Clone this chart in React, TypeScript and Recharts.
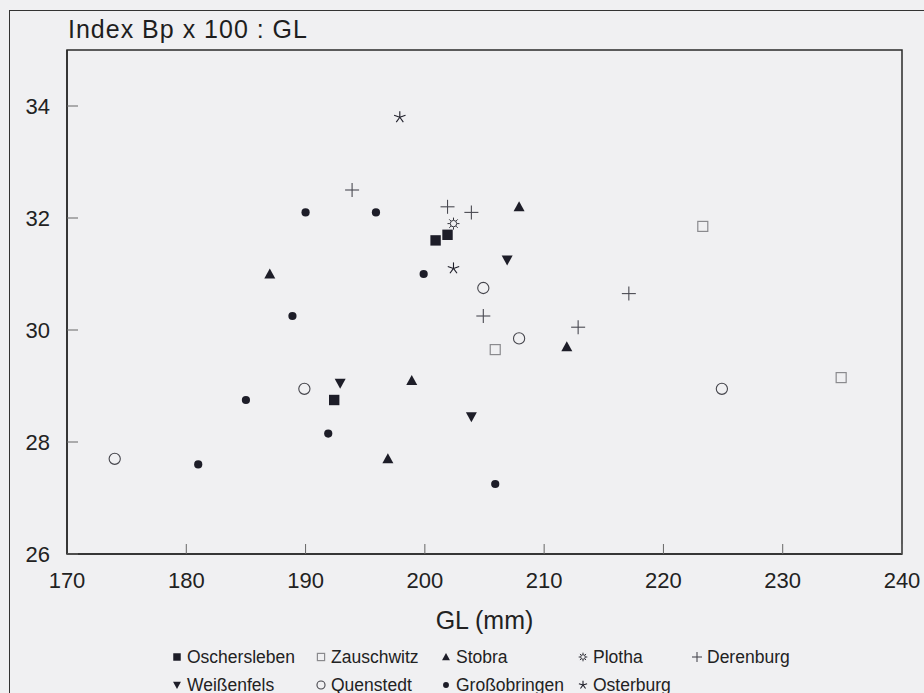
import React from "react";
import { ScatterChart, Scatter, XAxis, YAxis, ReferenceArea, Legend } from "recharts";

// Index Bp x 100 : GL
const oschersleben = [
  { x: 201.9, y: 31.7 },
  { x: 200.9, y: 31.6 },
  { x: 192.4, y: 28.75 },
];
const zauschwitz = [
  { x: 223.3, y: 31.85 },
  { x: 205.9, y: 29.65 },
  { x: 234.9, y: 29.15 },
];
const stobra = [
  { x: 187.0, y: 31.0 },
  { x: 207.9, y: 32.2 },
  { x: 211.9, y: 29.7 },
  { x: 198.9, y: 29.1 },
  { x: 196.9, y: 27.7 },
];
const plotha = [{ x: 202.4, y: 31.9 }];
const derenburg = [
  { x: 193.9, y: 32.5 },
  { x: 201.9, y: 32.2 },
  { x: 203.9, y: 32.1 },
  { x: 217.1, y: 30.65 },
  { x: 204.9, y: 30.25 },
  { x: 212.85, y: 30.05 },
];
const weissenfels = [
  { x: 206.9, y: 31.25 },
  { x: 192.9, y: 29.05 },
  { x: 203.9, y: 28.45 },
];
const quenstedt = [
  { x: 204.9, y: 30.75 },
  { x: 189.9, y: 28.95 },
  { x: 174.0, y: 27.7 },
  { x: 207.9, y: 29.85 },
  { x: 224.9, y: 28.95 },
];
const grossobringen = [
  { x: 190.0, y: 32.1 },
  { x: 195.9, y: 32.1 },
  { x: 199.9, y: 31.0 },
  { x: 188.9, y: 30.25 },
  { x: 185.0, y: 28.75 },
  { x: 191.9, y: 28.15 },
  { x: 181.0, y: 27.6 },
  { x: 205.9, y: 27.25 },
];
const osterburg = [
  { x: 197.9, y: 33.8 },
  { x: 202.4, y: 31.1 },
];

const xTicks = [170, 180, 190, 200, 210, 220, 230, 240];
const yTicks = [26, 28, 30, 32, 34];

const INK = "#1d1d28";
const FONT = '"Liberation Sans", Arial, sans-serif';

type P = { cx?: number; cy?: number; s?: number };

function FilledSquare({ cx = 0, cy = 0, s = 1 }: P) {
  const h = 5.2 * s;
  return <rect x={cx - h} y={cy - h} width={h * 2} height={h * 2} fill={INK} />;
}
function OpenSquare({ cx = 0, cy = 0, s = 1 }: P) {
  const h = 5 * s;
  return <rect x={cx - h} y={cy - h} width={h * 2} height={h * 2} fill="none" stroke="#8a8a8e" strokeWidth={1.2} />;
}
function TriUp({ cx = 0, cy = 0, s = 1 }: P) {
  const w = 5.5 * s;
  return <polygon points={`${cx},${cy - 5.5 * s} ${cx + w},${cy + 4.5 * s} ${cx - w},${cy + 4.5 * s}`} fill={INK} />;
}
function TriDown({ cx = 0, cy = 0, s = 1 }: P) {
  const w = 5.5 * s;
  return <polygon points={`${cx - w},${cy - 4.5 * s} ${cx + w},${cy - 4.5 * s} ${cx},${cy + 5.5 * s}`} fill={INK} />;
}
function FilledDot({ cx = 0, cy = 0, s = 1 }: P) {
  return <circle cx={cx} cy={cy} r={4.1 * s} fill={INK} />;
}
function OpenCircle({ cx = 0, cy = 0, s = 1 }: P) {
  return <circle cx={cx} cy={cy} r={5.6 * s} fill="none" stroke="#45454c" strokeWidth={1.1} />;
}
function Plus({ cx = 0, cy = 0, s = 1 }: P) {
  const h = 7 * s;
  return (
    <g stroke="#4a4a52" strokeWidth={1.1}>
      <line x1={cx - h} y1={cy} x2={cx + h} y2={cy} />
      <line x1={cx} y1={cy - h} x2={cx} y2={cy + h} />
    </g>
  );
}
function Asterisk({ cx = 0, cy = 0, s = 1 }: P) {
  const r = 6 * s;
  const arms = [-90, -18, 54, 126, 198];
  return (
    <g stroke={INK} strokeWidth={1.1}>
      {arms.map((a) => (
        <line
          key={a}
          x1={cx}
          y1={cy}
          x2={cx + r * Math.cos((a * Math.PI) / 180)}
          y2={cy + r * Math.sin((a * Math.PI) / 180)}
        />
      ))}
    </g>
  );
}
function Sun({ cx = 0, cy = 0, s = 1 }: P) {
  const rays = [0, 45, 90, 135, 180, 225, 270, 315];
  return (
    <g stroke="#33333b" strokeWidth={1}>
      <circle cx={cx} cy={cy} r={3.2 * s} fill="none" />
      {rays.map((a) => {
        const c = Math.cos((a * Math.PI) / 180);
        const sn = Math.sin((a * Math.PI) / 180);
        return <line key={a} x1={cx + 3.6 * s * c} y1={cy + 3.6 * s * sn} x2={cx + 6 * s * c} y2={cy + 6 * s * sn} />;
      })}
    </g>
  );
}

const series = [
  { name: "Oschersleben", data: oschersleben, Shape: FilledSquare },
  { name: "Zauschwitz", data: zauschwitz, Shape: OpenSquare },
  { name: "Stobra", data: stobra, Shape: TriUp },
  { name: "Plotha", data: plotha, Shape: Sun },
  { name: "Derenburg", data: derenburg, Shape: Plus },
  { name: "Weißenfels", data: weissenfels, Shape: TriDown },
  { name: "Quenstedt", data: quenstedt, Shape: OpenCircle },
  { name: "Großobringen", data: grossobringen, Shape: FilledDot },
  { name: "Osterburg", data: osterburg, Shape: Asterisk },
];

// legend: 5 columns, 2 rows
const legendCols = [177, 321, 446, 583, 697];

function LegendBox() {
  return (
    <div style={{ position: "relative", width: 924, height: 60, fontFamily: FONT, fontSize: 17.5, color: "#222" }}>
      {series.map((s, i) => {
        const col = i % 5;
        const row = Math.floor(i / 5);
        const x = legendCols[col];
        const y = row === 0 ? 12 : 40;
        const Shape = s.Shape;
        return (
          <div key={s.name} style={{ position: "absolute", left: x - 8, top: y - 11, height: 22, display: "flex", alignItems: "center", whiteSpace: "nowrap" }}>
            <svg width={16} height={16} style={{ marginRight: 2 }}>
              <Shape cx={8} cy={8} s={0.72} />
            </svg>
            <span>{s.name}</span>
          </div>
        );
      })}
    </div>
  );
}

export default function App() {
  return (
    <div style={{ position: "absolute", left: 0, top: 0, width: 924, height: 693, background: "#f0f0f2", overflow: "hidden" }}>
      <div style={{ position: "absolute", left: 9, top: 10, width: 1000, height: 1000, borderLeft: "1.5px solid #333", borderTop: "1.5px solid #333" }} />
      <div style={{ position: "absolute", left: 68, top: 17, fontFamily: FONT, fontSize: 25, letterSpacing: 1, color: "#1e1e1e", lineHeight: 1 }}>
        Index Bp x 100 : GL
      </div>
      <ScatterChart width={924} height={693} margin={{ top: 50, right: 22, left: 0, bottom: 99 }}>
        <ReferenceArea x1={170} x2={240} y1={26} y2={35} fill="none" stroke="#2a2a2a" strokeWidth={1.5} ifOverflow="visible" />
        <XAxis
          type="number"
          dataKey="x"
          domain={[170, 240]}
          ticks={xTicks}
          interval={0}
          height={40}
          axisLine={{ stroke: "#2a2a2a", strokeWidth: 1.5 }}
          tickLine={{ stroke: "#666" }}
          tickSize={-10}
          tickMargin={28}
          tick={{ fill: "#222", fontSize: 22, fontFamily: FONT }}
          label={{ value: "GL (mm)", position: "bottom", offset: 17, fill: "#222", fontSize: 25, fontFamily: FONT }}
        />
        <YAxis
          type="number"
          dataKey="y"
          domain={[26, 35]}
          ticks={yTicks}
          interval={0}
          width={67}
          axisLine={{ stroke: "#2a2a2a", strokeWidth: 1.5 }}
          tickLine={{ stroke: "#666" }}
          tickSize={-11}
          tickMargin={28}
          tick={{ fill: "#222", fontSize: 22, fontFamily: FONT }}
        />
        {series.map((s) => (
          <Scatter
            key={s.name}
            name={s.name}
            data={s.data}
            isAnimationActive={false}
            shape={(p: any) => <s.Shape cx={p.cx} cy={p.cy} />}
          />
        ))}
        <Legend
          layout="horizontal"
          verticalAlign="middle"
          align="center"
          wrapperStyle={{ position: "absolute", left: 0, top: 645, width: 924 }}
          content={() => <LegendBox />}
        />
      </ScatterChart>
    </div>
  );
}
